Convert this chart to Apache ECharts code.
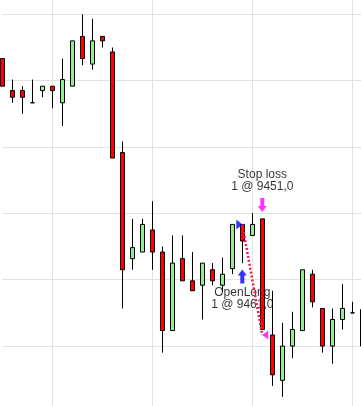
<!DOCTYPE html>
<html>
<head>
<meta charset="utf-8">
<script src="https://cdn.jsdelivr.net/npm/echarts@6/dist/echarts.min.js"></script>
<style>
html,body{margin:0;padding:0;background:#fff;}
#chart{width:361px;height:406px;}
</style>
</head>
<body>
<div id="chart"></div>
<script>
// Bar index labels
const categories = Array.from({length: 37}, (_, i) => String(i + 1));
const opens  = [9476.0,9473.1,9473.1,9472.0,9473.1,9473.5,9472.0,9473.5,9478.0,9475.5,9478.0,9476.6,9467.5,9457.9,9458.5,9460.5,9458.5,9451.4,9457.9,9455.9,9455.5,9456.9,9455.5,9457.0,9461.0,9460.0,9461.5,9451.0,9446.9,9450.0,9451.4,9456.5,9453.4,9450.0,9452.4,9453.0,9453.3];
const closes = [9473.5,9472.5,9472.5,9472.0,9473.5,9473.1,9474.1,9477.6,9476.0,9477.6,9477.6,9467.0,9456.9,9458.9,9461.0,9458.5,9451.4,9457.5,9455.9,9455.0,9457.5,9455.9,9456.5,9461.0,9459.5,9461.0,9451.5,9447.4,9450.0,9451.5,9456.9,9454.0,9450.0,9452.4,9453.4,9453.0,9450.0];
const lows   = [9473.5,9472.0,9471.0,9472.0,9472.5,9471.5,9469.9,9473.5,9475.4,9475.0,9477.0,9467.0,9453.4,9456.9,9458.5,9456.9,9449.4,9451.4,9455.9,9455.0,9452.4,9455.5,9455.0,9456.5,9457.5,9460.0,9451.5,9446.4,9445.4,9448.9,9451.4,9453.5,9449.4,9448.4,9451.5,9453.0,9450.0];
const highs  = [9476.0,9474.1,9473.5,9474.1,9473.5,9473.5,9476.0,9477.6,9480.0,9479.6,9478.0,9477.0,9468.5,9461.5,9461.5,9463.1,9459.0,9460.0,9460.0,9458.5,9457.5,9457.5,9458.0,9461.0,9461.0,9462.0,9461.5,9455.0,9452.1,9453.1,9456.9,9456.9,9453.4,9453.4,9455.6,9454.0,9453.3];

// Trade
const entryBar = 24, entryPrice = 9461.0, entryText = ['OpenLong', '1 @ 9461,0'];
const exitBar = 26, exitPrice = 9451.0, exitText = ['Stop loss', '1 @ 9451,0'];

// Price axis
const priceMin = 9444, priceMax = 9482, priceStep = 6;

const candleData = opens.map((o, i) => [o, closes[i], lows[i], highs[i]]);
const FONT = "'Liberation Sans', Arial, sans-serif";

const chart = echarts.init(document.getElementById('chart'), null, {renderer: 'canvas'});
chart.setOption({
  animation: false,
  backgroundColor: '#ffffff',
  grid: {left: 2.3, right: -1.3, top: -7.8, bottom: -6.4, containLabel: false, outerBoundsMode: 'none'},
  xAxis: {
    type: 'category', data: categories, boundaryGap: false,
    axisLine: {show: false}, axisTick: {show: false}, axisLabel: {show: false},
    splitLine: {show: true, interval: (idx) => idx % 10 === 5, lineStyle: {color: '#e2e2e2', width: 1}}
  },
  yAxis: {
    type: 'value', min: priceMin, max: priceMax, interval: priceStep, scale: true,
    axisLine: {show: false}, axisTick: {show: false}, axisLabel: {show: false},
    splitLine: {show: true, lineStyle: {color: '#e2e2e2', width: 1}}
  },
  series: [
    {
      type: 'scatter', z: 1, silent: true, symbolSize: 0,
      data: [
        {value: [entryBar, lows[entryBar]], label: {show: true, position: 'bottom', distance: 24, formatter: entryText.join('\n')}},
        {value: [exitBar, highs[exitBar]], label: {show: true, position: 'top', distance: 26, formatter: exitText.join('\n')}}
      ],
      label: {color: '#000', fontFamily: FONT, fontSize: 12, lineHeight: 12, align: 'center'}
    },
    {
      type: 'candlestick', z: 3, clip: false, barWidth: 5,
      data: candleData,
      itemStyle: {color: '#90ee90', color0: '#ff0000', borderColor: '#000', borderColor0: '#000', borderWidth: 1}
    },
    {
      type: 'line', z: 4, silent: true, symbol: 'none',
      data: [[entryBar, entryPrice], [exitBar, exitPrice]],
      lineStyle: {color: '#e8204f', width: 2.5, type: [2, 2]}
    },
    {
      type: 'scatter', z: 5, silent: true,
      data: [
        {value: [entryBar, entryPrice], symbol: 'path://M0,0 L6,5 L0,10 Z', symbolSize: [6, 10], symbolOffset: [-3, 0], itemStyle: {color: '#0000ff'}},
        {value: [exitBar, exitPrice], symbol: 'path://M6,0 L0,5 L6,10 Z', symbolSize: [6, 9], symbolOffset: [3, 0], itemStyle: {color: '#ff00ff'}},
        {value: [entryBar, lows[entryBar]], symbol: 'path://M4.5,0 L9,6 L6.5,6 L6.5,14 L2.5,14 L2.5,6 L0,6 Z', symbolSize: [9, 14], symbolOffset: [0, 13.4], itemStyle: {color: '#0000ff'}},
        {value: [exitBar, highs[exitBar]], symbol: 'path://M4.5,14 L9,8 L6.5,8 L6.5,0 L2.5,0 L2.5,8 L0,8 Z', symbolSize: [9, 14], symbolOffset: [0, -14], itemStyle: {color: '#ff00ff'}}
      ]
    }
  ]
});
</script>
</body>
</html>
